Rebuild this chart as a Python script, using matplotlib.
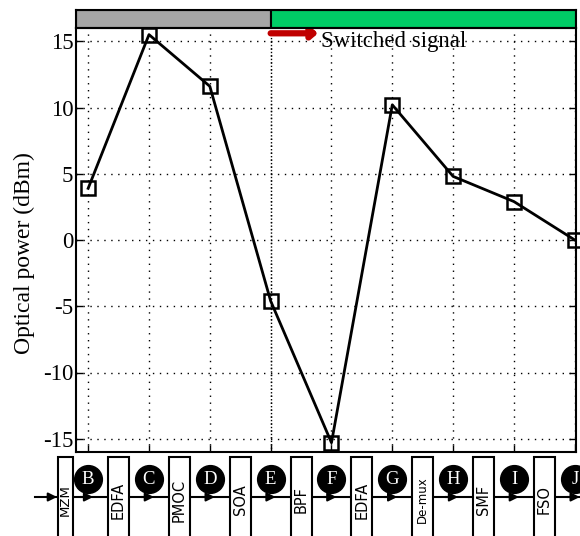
import matplotlib
matplotlib.use("Agg")
import matplotlib.pyplot as plt
from matplotlib.patches import Rectangle

# measured optical power at each monitoring point
points = ['B', 'C', 'D', 'E', 'F', 'G', 'H', 'I', 'J']
power = [3.9, 15.5, 11.6, -4.6, -15.3, 10.2, 4.8, 2.9, 0.0]
yticks = [-15, -10, -5, 0, 5, 10, 15]
# components between the monitoring points
components = ['MZM', 'EDFA', 'PMOC', 'SOA', 'BPF', 'EDFA', 'De-mux', 'SMF', 'FSO']

W, H = 580, 536
serif = ['Liberation Serif', 'DejaVu Serif']

fig = plt.figure(figsize=(W / 100, H / 100), dpi=100)

x = list(range(1, len(points) + 1))
xlim = (0.8, 9.02)

# main plot
ax = fig.add_axes([76 / W, (H - 452) / H, 500 / W, 424 / H])
ax.plot(x, power, color='black', lw=2, marker='s', ms=9.5, mfc='none',
        mec='black', mew=1.8, clip_on=False, zorder=5)
ax.set_xlim(*xlim)
ax.set_ylim(-16, 16)
ax.set_yticks(yticks)
ax.set_yticklabels([str(v) for v in yticks], family=serif, fontsize=16.5)
ax.set_xticks(x)
ax.set_xticklabels([])
ax.tick_params(direction='in', length=5, right=True, width=1, pad=2)
ax.grid(True, color='black', ls=(0, (1, 4)), lw=1)
ax.set_ylabel('Optical power (dBm)', family=serif, fontsize=17)
ax.yaxis.set_label_coords(-41 / 500, 0.47)
for s in ax.spines.values():
    s.set_linewidth(1.5)

# switched signal annotation
ax.annotate('', xy=(4.78, 15.6), xytext=(4.0, 15.6),
            arrowprops=dict(arrowstyle='-|>,head_length=0.35,head_width=0.3',
                            color='#c00000', lw=4.5, shrinkA=0, shrinkB=0))
ax.text(4.83, 15.0, 'Switched signal', family=serif, fontsize=16.5,
        ha='left', va='center')
ax.axvline(4, color='black', ls=(0, (1, 1.5)), lw=1)

# top bar
bar = fig.add_axes([76 / W, (H - 28) / H, 500 / W, 18 / H])
bar.set_xlim(*xlim)
bar.set_ylim(0, 1)
bar.add_patch(Rectangle((xlim[0], 0), 4 - xlim[0], 1, fc='#a6a6a6', ec='black', lw=1.5))
bar.add_patch(Rectangle((4, 0), xlim[1] - 4, 1, fc='#00cc66', ec='black', lw=1.5))
bar.set_xticks([])
bar.set_yticks([])
for s in bar.spines.values():
    s.set_linewidth(1.5)

# setup diagram below the plot (y in pixels from the bottom)
dg = fig.add_axes([76 / W, 0, 500 / W, 84 / H])
dg.set_xlim(*xlim)
dg.set_ylim(0, 84)
dg.axis('off')
px = (xlim[1] - xlim[0]) / 500.0
line_y = 39
dg.plot([0.13, xlim[1] + 0.1], [line_y, line_y], color='black', lw=1.5, clip_on=False)
dg.annotate('', xy=(0.8 - 19 * px, line_y), xytext=(0.8 - 30 * px, line_y),
            arrowprops=dict(arrowstyle='-|>,head_length=0.5,head_width=0.25',
                            color='black', lw=1.5, shrinkA=0, shrinkB=0),
            annotation_clip=False)
for i, name in enumerate(components):
    if i == 0:
        cx, bw = 0.63, 15 * px
    else:
        cx, bw = i + 0.5, 21 * px
    dg.add_patch(Rectangle((cx - bw / 2, -5), bw, 84, fc='white', ec='black',
                           lw=1.5, clip_on=False, zorder=3))
    fs = {'De-mux': 8.5, 'MZM': 9.5}.get(name, 10.5)
    dg.text(cx, 36, name, rotation=90, ha='center', va='center', fontsize=fs,
            family=['DejaVu Sans'], zorder=4, clip_on=False)
for xi, p in zip(x, points):
    dg.annotate('', xy=(xi + 5 * px, line_y), xytext=(xi - 8 * px, line_y),
                arrowprops=dict(arrowstyle='-|>,head_length=0.5,head_width=0.25',
                                color='black', lw=1.5, shrinkA=0, shrinkB=0),
                annotation_clip=False)
    dg.plot(xi, 57, marker='o', ms=20, color='black', clip_on=False, zorder=5)
    dg.text(xi, 57, p, color='white', ha='center', va='center', fontsize=13.5,
            family=serif, zorder=6, clip_on=False)

fig.savefig('out.png', dpi=100)
